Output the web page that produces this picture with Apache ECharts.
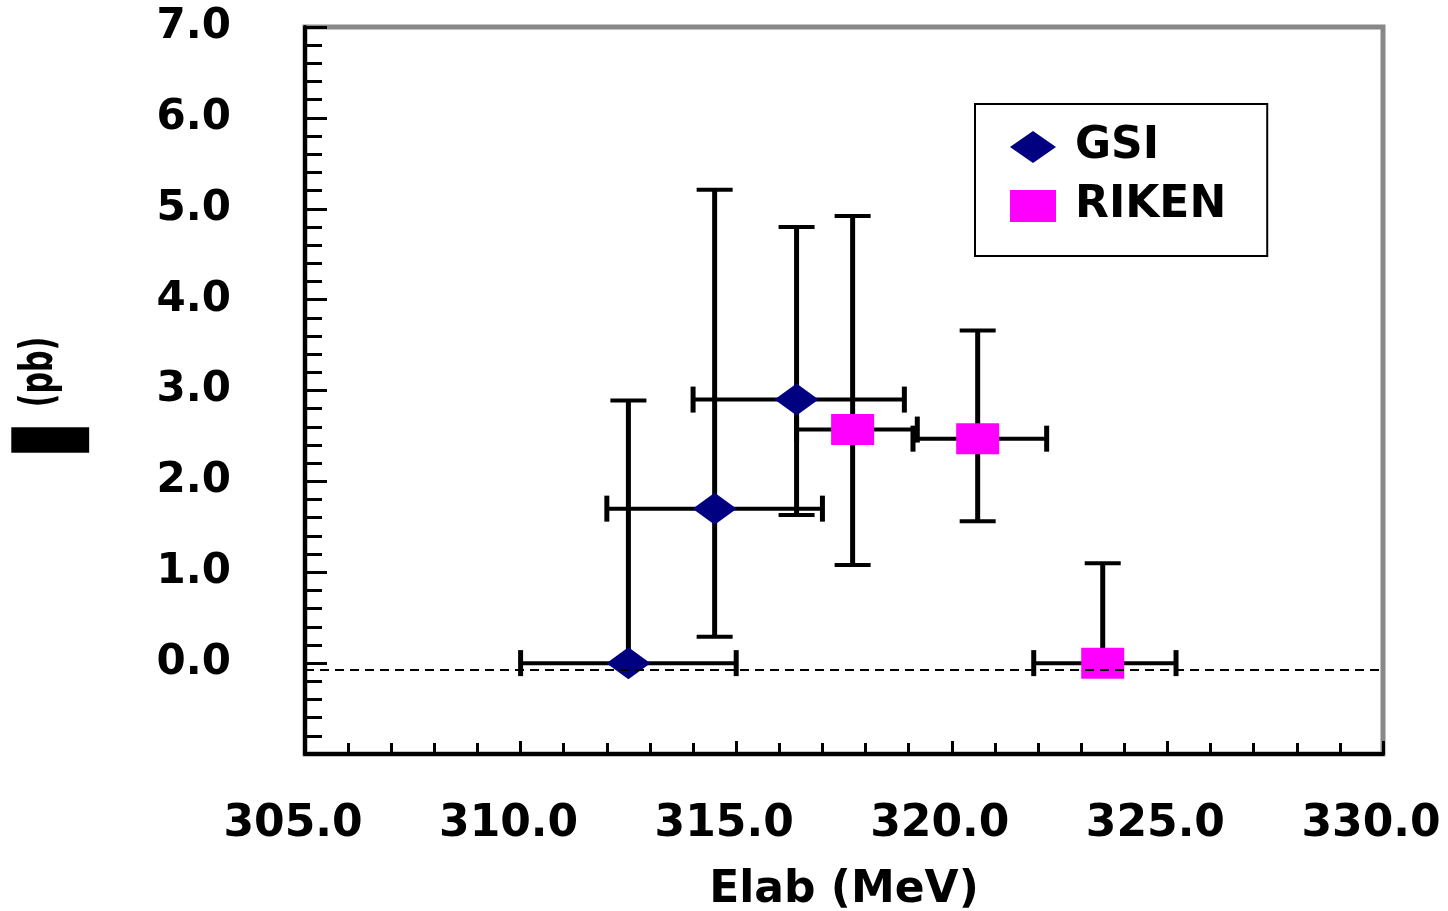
<!DOCTYPE html>
<html>
<head>
<meta charset="utf-8">
<script src="https://cdn.jsdelivr.net/npm/echarts@6/dist/echarts.min.js"></script>
<style>
html,body{margin:0;padding:0;background:#fff;}
#chart{width:1448px;height:911px;}
</style>
</head>
<body>
<div id="chart"></div>
<script>
// ---- data ----
var xTickLabels = ['305.0','310.0','315.0','320.0','325.0','330.0'];
var yTickLabels = ['0.0','1.0','2.0','3.0','4.0','5.0','6.0','7.0'];

var gsiX    = [312.5, 314.5, 316.4];
var gsiY    = [0.0,   1.70,  2.90];
var gsiXLo  = [310.0, 312.0, 314.0];
var gsiXHi  = [315.0, 317.0, 318.9];
var gsiYLo  = [0.0,   0.29,  1.63];
var gsiYHi  = [2.89,  5.21,  4.80];

var rikX    = [317.7, 320.6, 323.5];
var rikY    = [2.57,  2.47,  0.0];
var rikXLo  = [316.4, 319.1, 321.9];
var rikXHi  = [319.2, 322.2, 325.2];
var rikYLo  = [1.08,  1.56,  0.0];
var rikYHi  = [4.92,  3.66,  1.10];

var zeroLine = -0.07;

function rows(x, y, xl, xh, yl, yh) {
  return x.map(function (v, i) { return [v, y[i], xl[i], xh[i], yl[i], yh[i]]; });
}
var gsiErr = rows(gsiX, gsiY, gsiXLo, gsiXHi, gsiYLo, gsiYHi);
var rikErr = rows(rikX, rikY, rikXLo, rikXHi, rikYLo, rikYHi);

function renderErr(params, api) {
  var x = api.value(0), y = api.value(1);
  var xl = api.value(2), xh = api.value(3), yl = api.value(4), yh = api.value(5);
  var c = api.coord([x, y]);
  var pxl = api.coord([xl, y]), pxh = api.coord([xh, y]);
  var pyl = api.coord([x, yl]), pyh = api.coord([x, yh]);
  var vStyle = {stroke: '#000', lineWidth: 5};
  var hStyle = {stroke: '#000', lineWidth: 4};
  var capW = 18, capH = 13;
  var ch = [];
  ch.push({type: 'line', shape: {x1: pxl[0], y1: c[1], x2: pxh[0], y2: c[1]}, style: hStyle});
  ch.push({type: 'line', shape: {x1: pxl[0], y1: c[1] - capH, x2: pxl[0], y2: c[1] + capH}, style: vStyle});
  ch.push({type: 'line', shape: {x1: pxh[0], y1: c[1] - capH, x2: pxh[0], y2: c[1] + capH}, style: vStyle});
  if (yh > y) {
    ch.push({type: 'line', shape: {x1: c[0], y1: c[1], x2: c[0], y2: pyh[1]}, style: vStyle});
    ch.push({type: 'line', shape: {x1: c[0] - capW, y1: pyh[1], x2: c[0] + capW, y2: pyh[1]}, style: hStyle});
  }
  if (yl < y) {
    ch.push({type: 'line', shape: {x1: c[0], y1: c[1], x2: c[0], y2: pyl[1]}, style: vStyle});
    ch.push({type: 'line', shape: {x1: c[0] - capW, y1: pyl[1], x2: c[0] + capW, y2: pyl[1]}, style: hStyle});
  }
  return {type: 'group', children: ch};
}

var FONT = 'DejaVu Sans';
var chart = echarts.init(document.getElementById('chart'), null, {renderer: 'canvas'});
chart.setOption({
  animation: false,
  backgroundColor: '#fff',
  grid: {left: 305, right: 65, top: 27, bottom: 157, outerBoundsMode: 'none', containLabel: false,
         show: true, borderColor: '#888', borderWidth: 5, backgroundColor: 'transparent'},
  legend: {
    left: 975, top: 104, orient: 'vertical',
    padding: [21, 41, 28, 35],
    itemGap: 15, itemWidth: 46, itemHeight: 32,
    borderColor: '#000', borderWidth: 2, backgroundColor: '#fff',
    textStyle: {fontFamily: FONT, fontWeight: 'bold', fontSize: 44, lineHeight: 36, color: '#000', padding: [8, 0, 0, 14]},
    data: [{name: 'GSI', icon: 'diamond'}, {name: 'RIKEN', icon: 'rect'}]
  },
  xAxis: {
    type: 'value', min: 305, max: 330, interval: 5,
    splitLine: {show: false},
    axisLine: {show: true, onZero: false, lineStyle: {color: '#000', width: 4}},
    axisTick: {show: true, inside: true, length: 13, lineStyle: {color: '#000', width: 3}},
    minorTick: {show: true, splitNumber: 5, length: 11, lineStyle: {color: '#000', width: 3}},
    axisLabel: {
      margin: 49, fontFamily: FONT, fontWeight: 'bold', fontSize: 44, color: '#000', padding: [0, 24, 0, 0],
      formatter: function (v) { var i = Math.round((v - 305) / 5); return xTickLabels[i] || ''; }
    },
    name: 'Elab (MeV)', nameLocation: 'middle', nameGap: 115,
    nameTextStyle: {fontFamily: FONT, fontWeight: 'bold', fontSize: 44, color: '#000'}
  },
  yAxis: {
    type: 'value', min: -1, max: 7, interval: 1,
    splitLine: {show: false},
    axisLine: {show: true, onZero: false, lineStyle: {color: '#000', width: 4}},
    axisTick: {show: true, inside: true, length: 22, lineStyle: {color: '#000', width: 3}},
    minorTick: {show: true, splitNumber: 5, length: 17, lineStyle: {color: '#000', width: 3}},
    axisLabel: {
      margin: 74, fontFamily: FONT, fontWeight: 'bold', fontSize: 42, color: '#000', padding: [8, 0, 0, 0],
      formatter: function (v) { var i = Math.round(v); return i >= 0 ? (yTickLabels[i] || '') : ''; }
    }
  },
  graphic: [
    {type: 'text', x: 40, y: 372, rotation: Math.PI / 2, scaleX: 0.75, scaleY: 1.15,
     style: {text: '(pb)', fontFamily: FONT, fontWeight: 'bold', fontSize: 40, fill: '#000', align: 'center', verticalAlign: 'middle'}},
    {type: 'text', x: 56, y: 440, rotation: Math.PI / 2, scaleX: 0.81, scaleY: 1.64,
     style: {text: '\u2588', fontFamily: FONT, fontSize: 40, fill: '#000', align: 'center', verticalAlign: 'middle'}}
  ],
  series: [
    {type: 'custom', name: 'GSI err', data: gsiErr, renderItem: renderErr, z: 1, silent: true,
     encode: {x: 0, y: 1},
     markLine: {silent: true, symbol: 'none', label: {show: false},
       lineStyle: {color: '#000', width: 2, type: [9, 6]}, data: [{yAxis: zeroLine}]}},
    {type: 'custom', name: 'RIKEN err', data: rikErr, renderItem: renderErr, z: 1, silent: true, encode: {x: 0, y: 1}},
    {type: 'scatter', name: 'GSI', z: 3, symbol: 'diamond', symbolSize: [44, 32],
     itemStyle: {color: '#000080', opacity: 1},
     data: gsiX.map(function (v, i) { return [v, gsiY[i]]; })},
    {type: 'scatter', name: 'RIKEN', z: 3, symbol: 'rect', symbolSize: [43, 31],
     itemStyle: {color: '#ff00ff', opacity: 1},
     data: rikX.map(function (v, i) { return [v, rikY[i]]; })}
  ]
});
</script>
</body>
</html>
